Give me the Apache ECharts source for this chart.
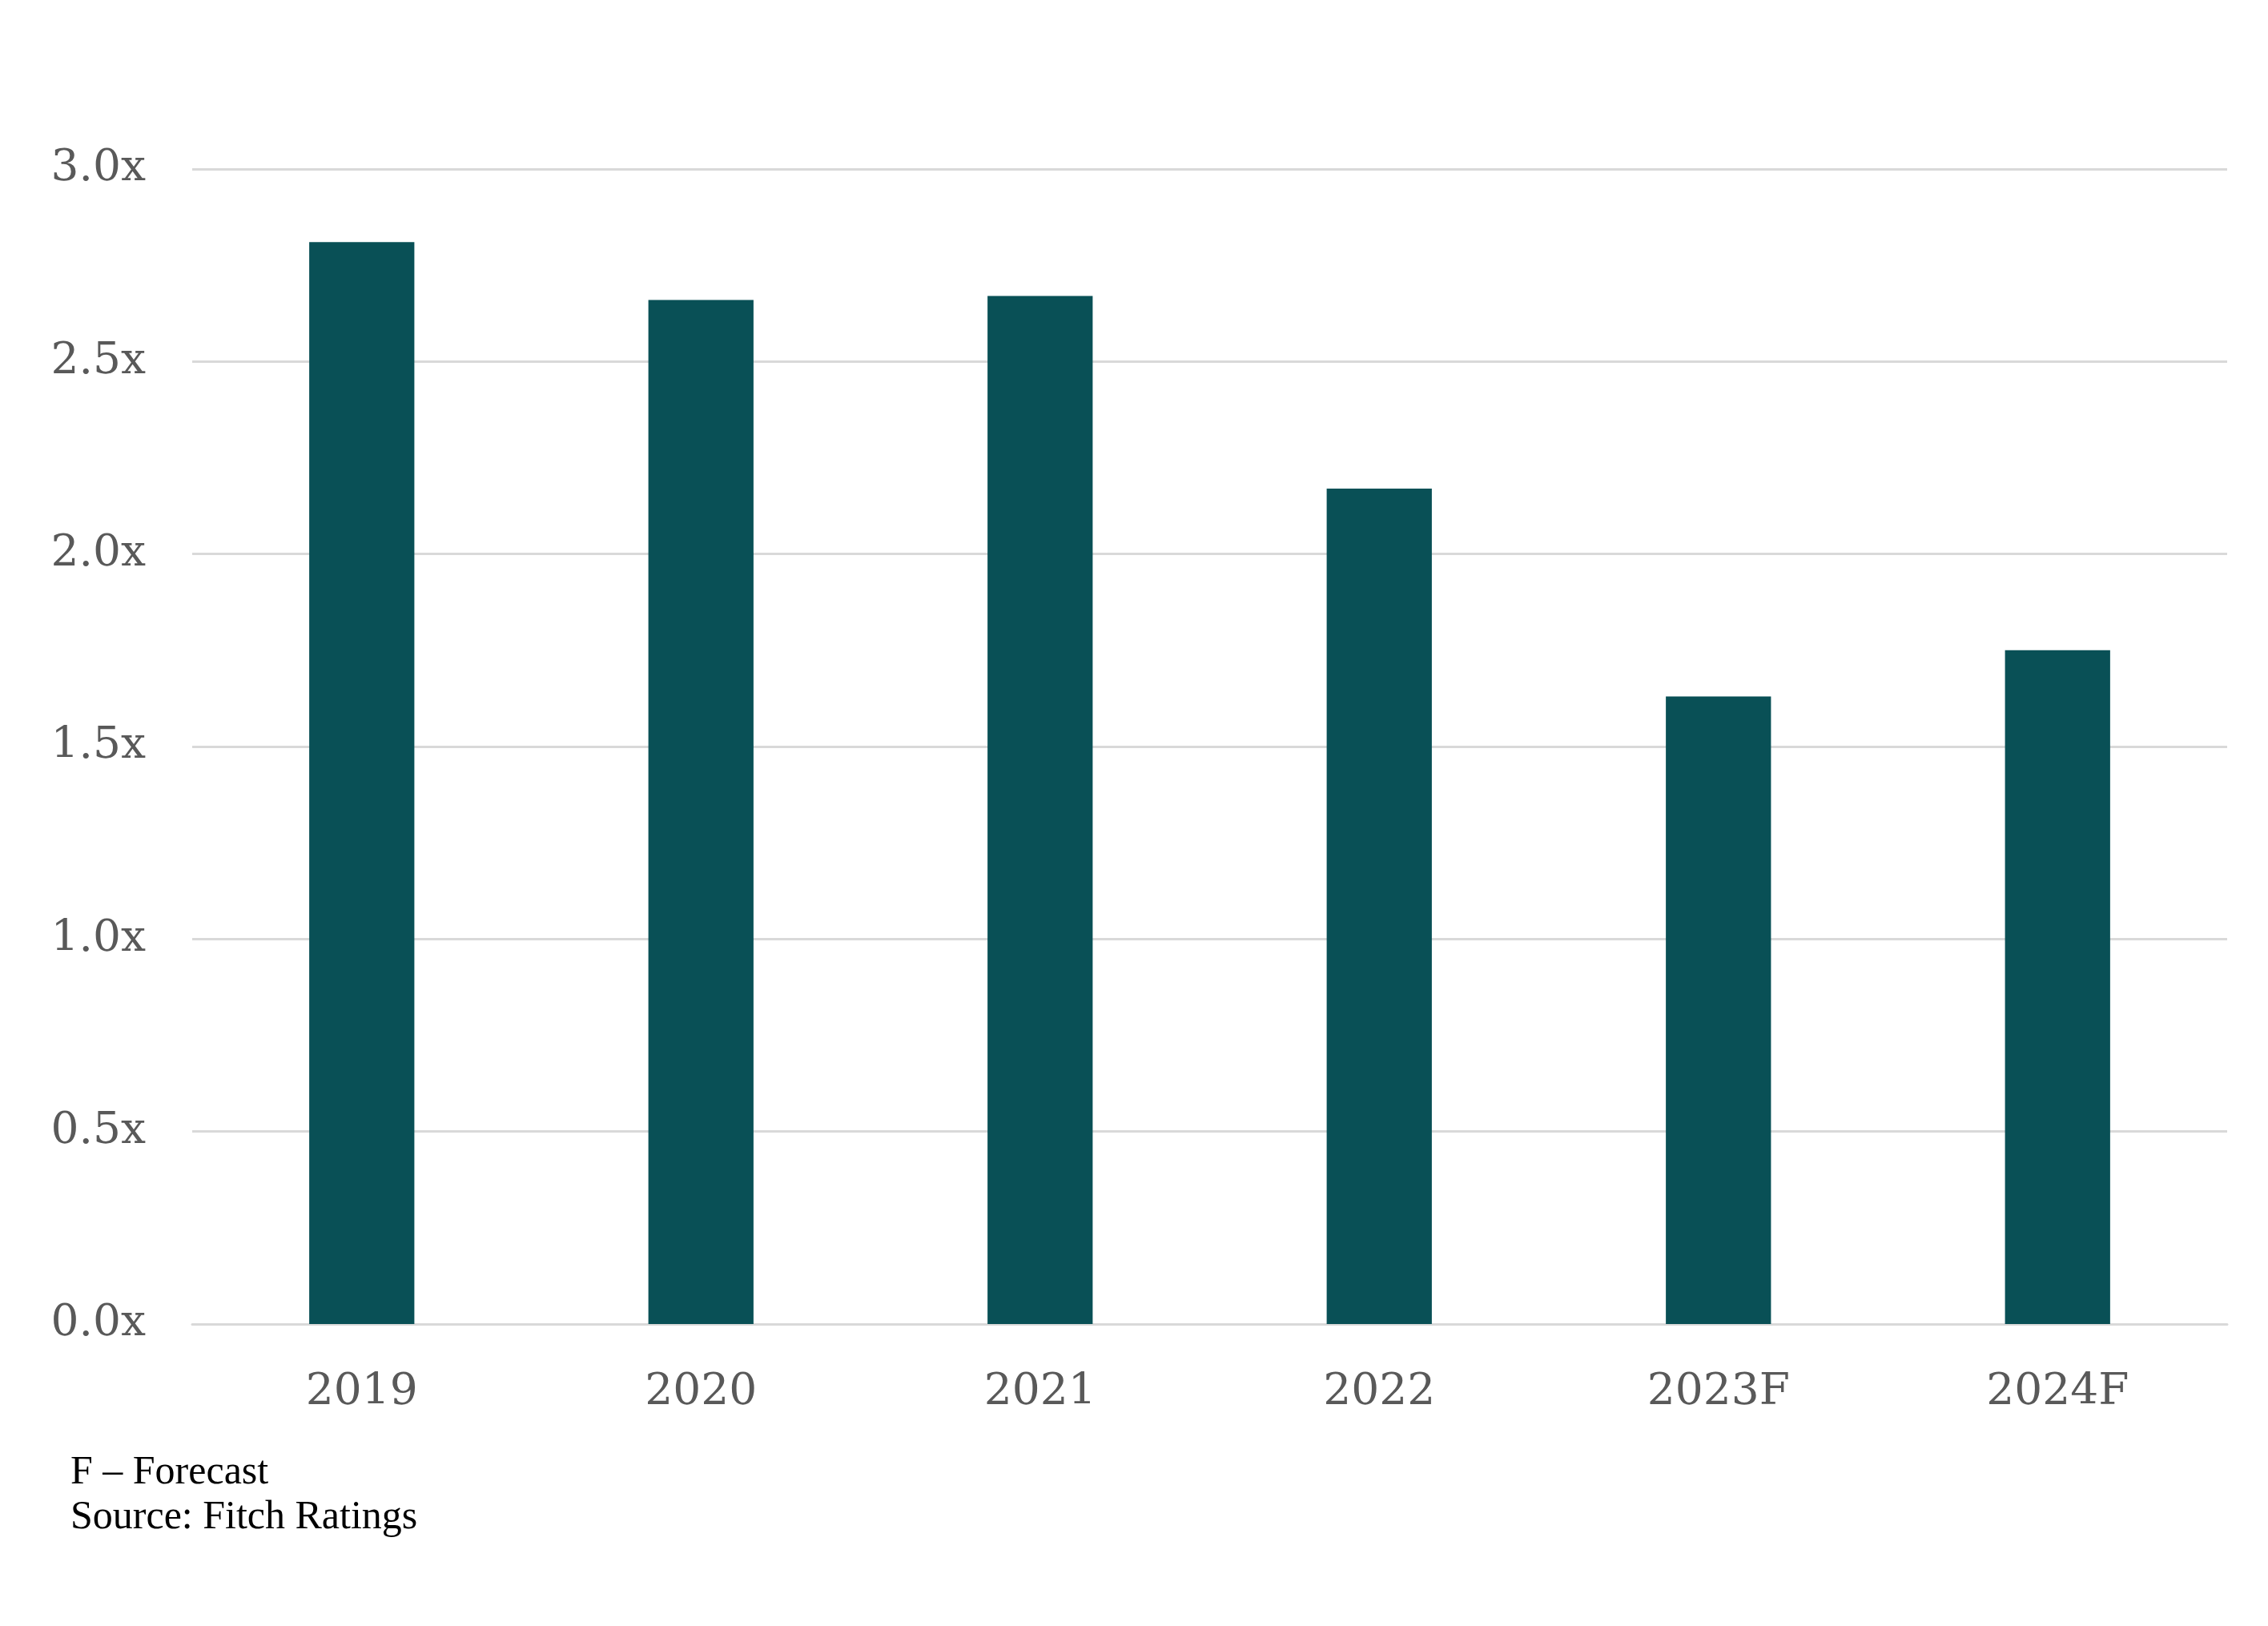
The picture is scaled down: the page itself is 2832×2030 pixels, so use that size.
<!DOCTYPE html>
<html>
<head>
<meta charset="utf-8">
<script src="https://cdn.jsdelivr.net/npm/echarts@6/dist/echarts.min.js"></script>
<style>
html,body{margin:0;padding:0;background:#ffffff;}
#chart{width:2832px;height:2030px;}
</style>
</head>
<body>
<div id="chart"></div>
<script>
const categories = ['2019', '2020', '2021', '2022', '2023F', '2024F'];
const values = [2.81, 2.66, 2.67, 2.17, 1.63, 1.75];
const yTicks = [0, 0.5, 1.0, 1.5, 2.0, 2.5, 3.0];
const footnotes = ['F \u2013 Forecast', 'Source: Fitch Ratings'];

const chart = echarts.init(document.getElementById('chart'));
const serif = '"DejaVu Serif", "Liberation Serif", serif';
chart.setOption({
  backgroundColor: '#ffffff',
  animation: false,
  grid: { left: 240, right: 51, top: 211, bottom: 377, containLabel: false },
  title: {
    text: footnotes.join('\n'),
    left: 88,
    top: 1811,
    padding: 0,
    textStyle: { fontFamily: '"Liberation Serif", serif', fontSize: 50, fontWeight: 'normal', color: '#000000', lineHeight: 56 }
  },
  xAxis: {
    type: 'category',
    data: categories,
    axisLine: { show: true, lineStyle: { color: '#d9d9d9', width: 3 } },
    axisTick: { show: false },
    axisLabel: { fontFamily: serif, fontSize: 55, color: '#595959', margin: 58, lineHeight: 56 }
  },
  yAxis: {
    type: 'value',
    min: yTicks[0],
    max: yTicks[yTicks.length - 1],
    interval: 0.5,
    axisLine: { show: false },
    axisTick: { show: false },
    splitLine: { show: true, lineStyle: { color: '#d9d9d9', width: 3 } },
    axisLabel: {
      fontFamily: serif, fontSize: 55, color: '#595959', margin: 58,
      padding: [8, 0, 0, 0],
      formatter: v => v.toFixed(1) + 'x'
    }
  },
  series: [{
    type: 'bar',
    data: values,
    barWidth: '31%',
    itemStyle: { color: '#095056' }
  }]
});
</script>
</body>
</html>
